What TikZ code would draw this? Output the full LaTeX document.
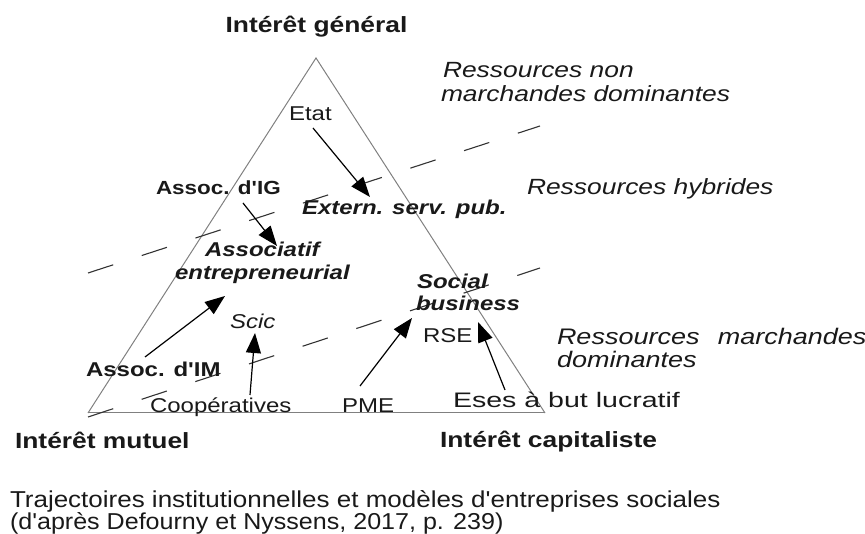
\documentclass[tikz,border=0pt]{standalone}
\usepackage{fontspec}
\setmainfont{Liberation Sans}
\usetikzlibrary{arrows.meta}
\begin{document}
\begin{tikzpicture}[x=1pt,y=-1pt,
  lbl/.style={inner sep=0pt, outer sep=0pt, anchor=base west, xscale=1.2, text=black!90},
  reg/.style={lbl, font=\fontsize{20}{23}\selectfont},
  bld/.style={lbl, font=\bfseries\fontsize{20}{23}\selectfont},
  bit/.style={lbl, font=\bfseries\itshape\fontsize{20}{23}\selectfont},
  itl/.style={lbl, font=\itshape\fontsize{20}{23}\selectfont},
  pole/.style={lbl, font=\bfseries\fontsize{22}{26}\selectfont},
  res/.style={lbl, font=\itshape\fontsize{22}{26}\selectfont},
  captxt/.style={inner sep=0pt, outer sep=0pt, anchor=base west, text=black!90, font=\fontsize{23}{26}\selectfont},
  tri/.style={draw=black!50, line width=1pt},
  zone/.style={draw=black!80, line width=1.1pt, dash pattern=on 26.5pt off 30pt},
  arr/.style={draw=black, line width=1.2pt, -{Triangle[length=20pt,width=15pt]}}
]
\useasboundingbox (0,0) rectangle (865,534);
% triangle
\coordinate (top) at (316,58);
\coordinate (bl) at (88,413);
\coordinate (br) at (545,413);
\draw[tri] (bl) -- (top) -- (br);
\draw[tri] (bl) -- (br);
% dashed zone limits
\coordinate (z1a) at (88,273);
\coordinate (z1b) at (540,126);
\coordinate (z2a) at (88,417);
\coordinate (z2b) at (540,268);
\draw[zone] (z1a) -- (z1b);
\draw[zone] (z2a) -- (z2b);
% pole labels
\node[pole, anchor=base] (ig) at (316.5,33) {Intérêt général};
\node[pole] (im) at (15,449) {Intérêt mutuel};
\node[pole] (ic) at (440,448) {Intérêt capitaliste};
% resources labels
\node[res] (r1a) at (443,78) {Ressources non};
\node[res] (r1b) at (441,102) {marchandes dominantes};
\node[res] (r2) at (527,195) {Ressources hybrides};
\node[res, font=\itshape\fontsize{22.5}{26}\selectfont] (r3a) at (557,345) {Ressources\hspace{0.68em}marchandes};
\node[res, font=\itshape\fontsize{22.5}{26}\selectfont] (r3b) at (557,368) {dominantes};
% organisations
\node[reg] (etat) at (289,121) {Etat};
\node[bit] (ext) at (302,215) {Extern. serv. pub.};
\node[bld, xscale=0.985, font=\bfseries\fontsize{19}{22}\selectfont] (aig) at (156,195) {Assoc. d\textquotesingle IG};
\node[bit] (ae1) at (205,257) {Associatif};
\node[bit] (ae2) at (175,280) {entrepreneurial};
\node[itl] (scic) at (230,329) {Scic};
\node[bld] (aim) at (86,377) {Assoc. d\textquotesingle IM};
\node[reg] (coop) at (150,413) {Coopératives};
\node[reg] (pme) at (342,413) {PME};
\node[bit] (sb1) at (417,289) {Social};
\node[bit] (sb2) at (416,311) {business};
\node[reg] (rse) at (423,343) {RSE};
\node[reg, xscale=1.133, font=\fontsize{21}{24}\selectfont] (eses) at (453,408) {Eses à but lucratif};
% arrows
\coordinate (a1s) at (313,128); \coordinate (a1t) at (370,197);
\coordinate (a2s) at (243,203); \coordinate (a2t) at (277,246);
\coordinate (a3s) at (145,357); \coordinate (a3t) at (225,296);
\coordinate (a4s) at (250,395); \coordinate (a4t) at (255,333);
\coordinate (a5s) at (360,386); \coordinate (a5t) at (412,318);
\coordinate (a6s) at (505,390); \coordinate (a6t) at (478,322);
\draw[arr] (a1s) -- (a1t);
\draw[arr] (a2s) -- (a2t);
\draw[arr] (a3s) -- (a3t);
\draw[arr] (a4s) -- (a4t);
\draw[arr] (a5s) -- (a5t);
\draw[arr] (a6s) -- (a6t);
% caption
\node[captxt, xscale=1.13] (c1) at (10,507) {Trajectoires institutionnelles et modèles d\textquotesingle entreprises sociales};
\node[captxt, xscale=1.09] (c2) at (10,529) {(d\textquotesingle après Defourny et Nyssens, 2017, p. 239)};
\end{tikzpicture}
\end{document}
